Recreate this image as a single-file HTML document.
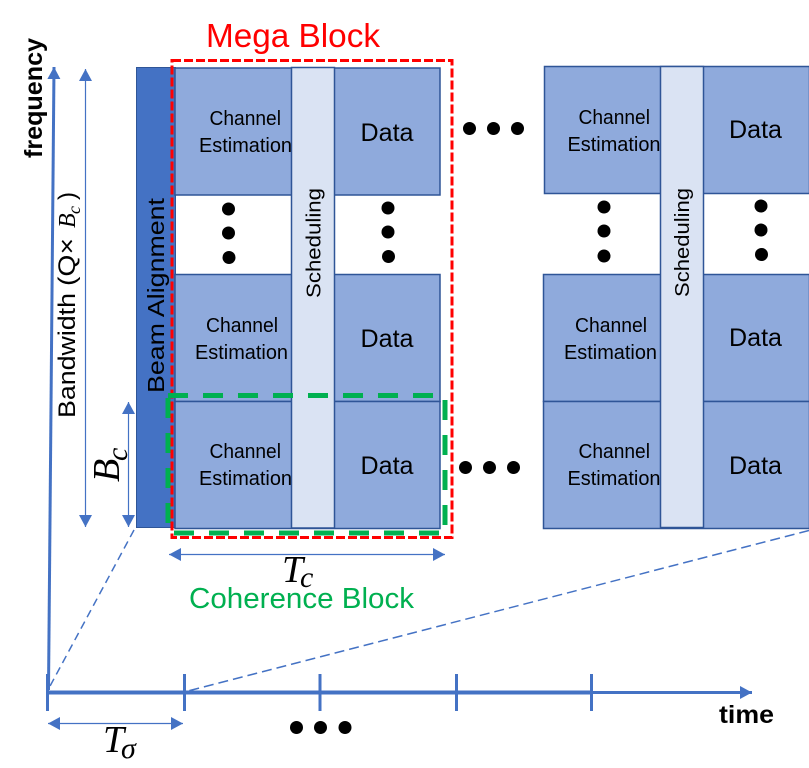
<!DOCTYPE html>
<html><head><meta charset="utf-8"><style>
html,body{margin:0;padding:0;background:#fff}
svg{display:block}
text{font-family:"Liberation Sans",sans-serif;fill:#000}
.m{font-family:"Liberation Serif",serif;font-style:italic}
.ce{font-size:20px}.d{font-size:25px}
.b{fill:#8faadc;stroke:#2f5597;stroke-width:1.5}
.s{fill:#dae3f3;stroke:#2f5597;stroke-width:1.5}
</style></head><body>
<svg width="809" height="768" viewBox="0 0 809 768" xmlns="http://www.w3.org/2000/svg">
<defs>
<marker id="a" markerUnits="userSpaceOnUse" markerWidth="13" markerHeight="13" refX="12" refY="6.5" orient="auto-start-reverse"><path d="M0 0L12 6.5L0 13Z" fill="#4472c4"/></marker>
</defs>
<rect x="136.5" y="67.5" width="39" height="460" fill="#4472c4" stroke="#2f5597" stroke-width="1"/>
<rect class="b" x="175" y="68" width="265" height="127"/>
<rect class="b" x="175" y="274.5" width="265" height="127"/>
<rect class="b" x="175" y="401.5" width="265" height="127"/>
<rect class="s" x="291.5" y="67.5" width="43" height="460.5"/>
<rect class="b" x="544.5" y="66.5" width="265" height="127"/>
<rect class="b" x="543.5" y="274.5" width="266" height="127"/>
<rect class="b" x="543.5" y="401.5" width="266" height="127"/>
<rect class="s" x="660.5" y="66.5" width="43" height="461"/>
<g class="ce">
<text x="209.5" y="125" textLength="71.5" lengthAdjust="spacingAndGlyphs">Channel</text>
<text x="199" y="152" textLength="93" lengthAdjust="spacingAndGlyphs">Estimation</text>
<text x="206" y="332" textLength="72" lengthAdjust="spacingAndGlyphs">Channel</text>
<text x="195" y="359" textLength="93" lengthAdjust="spacingAndGlyphs">Estimation</text>
<text x="209.5" y="458" textLength="71.5" lengthAdjust="spacingAndGlyphs">Channel</text>
<text x="199" y="485" textLength="93" lengthAdjust="spacingAndGlyphs">Estimation</text>
<text x="578.5" y="124" textLength="71.5" lengthAdjust="spacingAndGlyphs">Channel</text>
<text x="567.5" y="151" textLength="93" lengthAdjust="spacingAndGlyphs">Estimation</text>
<text x="575" y="332" textLength="72" lengthAdjust="spacingAndGlyphs">Channel</text>
<text x="564" y="359" textLength="93" lengthAdjust="spacingAndGlyphs">Estimation</text>
<text x="578.5" y="458" textLength="71.5" lengthAdjust="spacingAndGlyphs">Channel</text>
<text x="567.5" y="485" textLength="93" lengthAdjust="spacingAndGlyphs">Estimation</text>
</g>
<g class="d">
<text x="360.5" y="141" textLength="53" lengthAdjust="spacingAndGlyphs">Data</text>
<text x="360.5" y="347" textLength="53" lengthAdjust="spacingAndGlyphs">Data</text>
<text x="360.5" y="474" textLength="53" lengthAdjust="spacingAndGlyphs">Data</text>
<text x="729" y="138" textLength="53" lengthAdjust="spacingAndGlyphs">Data</text>
<text x="729" y="346" textLength="53" lengthAdjust="spacingAndGlyphs">Data</text>
<text x="729" y="474" textLength="53" lengthAdjust="spacingAndGlyphs">Data</text>
</g>
<text transform="translate(320.5 298) rotate(-90)" font-size="20.5" textLength="110" lengthAdjust="spacingAndGlyphs">Scheduling</text>
<text transform="translate(689 297) rotate(-90)" font-size="20.5" textLength="109" lengthAdjust="spacingAndGlyphs">Scheduling</text>
<text transform="translate(164 393) rotate(-90)" font-size="23" textLength="195" lengthAdjust="spacingAndGlyphs">Beam Alignment</text>
<text transform="translate(75 418) rotate(-90)" font-size="24" textLength="125" lengthAdjust="spacingAndGlyphs">Bandwidth</text>
<text transform="translate(75 286) rotate(-90)" font-size="24" textLength="48" lengthAdjust="spacingAndGlyphs">(Q×</text>
<text class="m" transform="translate(75 228) rotate(-90)" font-size="24">B</text>
<text class="m" transform="translate(80 214) rotate(-90)" font-size="18">c</text>
<text transform="translate(75 200) rotate(-90)" font-size="24">)</text>
<text transform="translate(42 158) rotate(-90)" font-size="25" font-weight="700" textLength="120" lengthAdjust="spacingAndGlyphs">frequency</text>
<text x="719" y="723" font-size="25" font-weight="700" textLength="55" lengthAdjust="spacingAndGlyphs">time</text>
<text x="206" y="47" font-size="33" style="fill:#ff0000" textLength="174" lengthAdjust="spacingAndGlyphs">Mega Block</text>
<text x="189" y="608" font-size="29" style="fill:#00b050" textLength="225" lengthAdjust="spacingAndGlyphs">Coherence Block</text>
<text class="m" transform="translate(119 482) rotate(-90)" font-size="38">B</text>
<text class="m" transform="translate(127 461) rotate(-90)" font-size="30">c</text>
<text class="m" x="282" y="582" font-size="38">T</text>
<text class="m" x="300" y="587" font-size="30">c</text>
<text class="m" x="103" y="752" font-size="38">T</text>
<text class="m" x="121" y="758" font-size="30">σ</text>
<rect x="172" y="60.5" width="280" height="477" fill="none" stroke="#ff0000" stroke-width="3" stroke-dasharray="9 3"/>
<g fill="none" stroke="#00b050" stroke-width="5" stroke-dasharray="20 15">
<path d="M168 395.5H436"/><path d="M445 400V533"/><path d="M174 533H440"/><path d="M168 398V533"/>
</g>
<g stroke="#4472c4" fill="none">
<path d="M48.5 690L54 67" stroke-width="3" marker-end="url(#a)"/>
<path d="M85.5 69V527" stroke-width="1.2" marker-start="url(#a)" marker-end="url(#a)"/>
<path d="M128.5 402V527" stroke-width="1.2" marker-start="url(#a)" marker-end="url(#a)"/>
<path d="M169 554.5H445" stroke-width="1.2" marker-start="url(#a)" marker-end="url(#a)"/>
<path d="M48 723.5H183" stroke-width="1.2" marker-start="url(#a)" marker-end="url(#a)"/>
<path d="M48 692.5H592" stroke-width="4"/>
<path d="M592 692.5H752" stroke-width="3" marker-end="url(#a)"/>
<path d="M47.5 674V711M184.5 674V711M320 674V711M456.5 674V711M591.5 674V711" stroke-width="3"/>
<path d="M134 530L49 688" stroke-width="1.5" stroke-dasharray="8 5"/>
<path d="M809 530.5L188 691" stroke-width="1.5" stroke-dasharray="10 5"/>
</g>
<g fill="#000">
<circle cx="469.5" cy="128.5" r="6.5"/><circle cx="493.5" cy="128.5" r="6.5"/><circle cx="517.5" cy="128.5" r="6.5"/>
<circle cx="465.5" cy="467.5" r="6.5"/><circle cx="489.5" cy="467.5" r="6.5"/><circle cx="513.5" cy="467.5" r="6.5"/>
<circle cx="296.5" cy="727.5" r="6.5"/><circle cx="320.5" cy="727.5" r="6.5"/><circle cx="345" cy="727.5" r="6.5"/>
<circle cx="228.5" cy="209" r="6.5"/><circle cx="228.5" cy="233" r="6.5"/><circle cx="229" cy="257.5" r="6.5"/>
<circle cx="388" cy="208" r="6.5"/><circle cx="388" cy="232" r="6.5"/><circle cx="388.5" cy="256.5" r="6.5"/>
<circle cx="604" cy="207" r="6.5"/><circle cx="604" cy="231" r="6.5"/><circle cx="604" cy="256" r="6.5"/>
<circle cx="761" cy="206" r="6.5"/><circle cx="761" cy="230" r="6.5"/><circle cx="761.5" cy="254.5" r="6.5"/>
</g>
</svg>
</body></html>
